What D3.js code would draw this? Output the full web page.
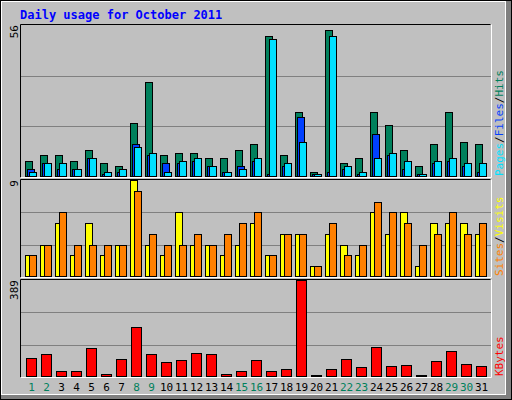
<!DOCTYPE html>
<html><head><meta charset="utf-8">
<script src="https://cdn.jsdelivr.net/npm/d3@7"></script>
<style>body{margin:0;background:#fff}svg{display:block}</style>
</head><body>
<script>
const days = d3.range(1, 32);
const weekendDays = [1,2,8,9,15,16,22,23,29,30];
const hits  = [6,8,8,6,10,5,4,20,35,8,9,9,7,7,10,12,52,8,24,2,54,5,7,24,19,10,4,12,24,13,12];
const files = [3,5,3,3,7,1,2,12,8,5,5,6,4,2,4,6,1,4,22,1,2,3,1,16,8,3,1,5,6,4,2];
const pages = [2,5,5,3,7,2,3,11,9,2,6,7,4,2,3,7,51,5,13,1,52,4,2,7,9,6,1,6,7,5,5];
const visits = [2,3,5,2,5,2,3,9,3,2,6,3,3,2,3,5,2,4,4,1,4,3,2,6,4,6,1,5,5,5,4];
const sites  = [2,3,6,3,3,3,3,8,4,3,3,4,3,4,5,6,2,4,4,1,5,2,3,7,6,5,3,4,6,4,5];
const kbytes = [78,92,23,23,116,11,74,201,92,61,69,95,92,14,23,69,23,31,389,10,31,74,40,120,44,48,10,65,103,52,44];
const maxTop = 56, maxMid = 9, maxBot = 389;

const W = 512, H = 400;
const svg = d3.select("body").append("svg").attr("width", W).attr("height", H);
const mono = "'DejaVu Sans Mono', monospace";

// frame
svg.append("rect").attr("x",0).attr("y",0).attr("width",W).attr("height",H).attr("fill","#000");
svg.append("rect").attr("x",1).attr("y",1).attr("width",W-2).attr("height",H-2).attr("fill","#808080");
svg.append("rect").attr("x",1).attr("y",1).attr("width",W-7).attr("height",H-6).attr("fill","#ffffff");
svg.append("rect").attr("x",2).attr("y",2).attr("width",W-9).attr("height",H-8).attr("fill","#c0c0c0");

svg.append("text").attr("x",20).attr("y",19).text("Daily usage for October 2011")
  .attr("font-family",mono).attr("font-weight","bold").attr("font-size",12).attr("fill","#0000ff");

const x0 = 20, x1 = 491;
const slot = d3.scaleBand().domain(days).range([24, 24 + 15*31]).paddingInner(0).paddingOuter(0);

const panels = [
  {top:25, bottom:177, max:maxTop, label:"56"},
  {top:180, bottom:277, max:maxMid, label:"9"},
  {top:280, bottom:377, max:maxBot, label:"389"}
];
panels.forEach(p => {
  svg.append("rect").attr("x",x0).attr("y",p.top-1).attr("width",x1-x0).attr("height",p.bottom-p.top+1)
    .attr("fill","#c0c0c0");
  p.y = d3.scaleLinear().domain([0,p.max]).range([p.bottom, p.top]);
  [1/3, 2/3].forEach(f => {
    const yy = Math.round(p.y(p.max*f)) + 0.5;
    svg.append("line").attr("x1",x0).attr("x2",x1).attr("y1",yy).attr("y2",yy).attr("stroke","#808080");
  });
  svg.append("path").attr("d",`M${x0+0.5},${p.bottom+0.5}V${p.top-0.5}H${x1-0.5}`).attr("fill","none").attr("stroke","#000");
  svg.append("path").attr("d",`M${x0+0.5},${p.bottom+0.5}H${x1+0.5}V${p.top-0.5}`).attr("fill","none").attr("stroke","#fff");
  svg.append("text").attr("transform",`translate(18,${p.top}) rotate(-90)`).attr("text-anchor","end")
    .attr("font-family",mono).attr("font-size",11).attr("fill","#000").text(p.label);
});

function bars(data, panel, off, w, color){
  svg.append("g").selectAll("rect").data(data).join("rect")
    .attr("x",(d,i)=>slot(days[i])+off+0.5)
    .attr("y",d=>Math.round(panel.y(d))+0.5)
    .attr("width",w)
    .attr("height",d=>Math.max(0,panel.bottom-Math.round(panel.y(d))-1))
    .attr("fill",color).attr("stroke","#000");
}
bars(hits, panels[0], 1, 7, "#00805c");
bars(files, panels[0], 3, 7, "#0040ff");
bars(pages, panels[0], 5, 7, "#00e0ff");
bars(visits, panels[1], 1, 7, "#ffff00");
bars(sites, panels[1], 5, 7, "#ff8000");
bars(kbytes, panels[2], 2, 10, "#ff0000");

// x labels
svg.append("g").selectAll("text").data(days).join("text")
  .attr("x",d=>slot(d)+7.5).attr("y",391).attr("text-anchor","middle")
  .attr("font-family",mono).attr("font-size",11)
  .attr("fill",d=>weekendDays.includes(d)?"#00805c":"#000").text(d=>d);

// right labels
function rlabel(yBottom, parts){
  const t = svg.append("text").attr("transform",`translate(503,${yBottom}) rotate(-90)`)
    .attr("font-family",mono).attr("font-size",11);
  parts.forEach(([s,c])=>t.append("tspan").attr("fill",c).text(s));
}
rlabel(176, [["Pages","#00e0ff"],["/","#000"],["Files","#0040ff"],["/","#000"],["Hits","#00805c"]]);
rlabel(276, [["Sites","#ff8000"],["/","#000"],["Visits","#ffff00"]]);
rlabel(376, [["KBytes","#ff0000"]]);
</script>
</body></html>
